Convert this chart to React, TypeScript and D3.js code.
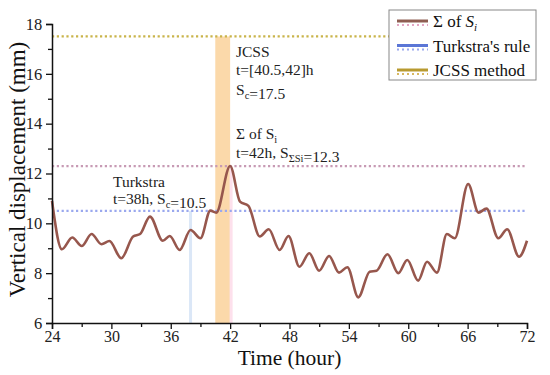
import React, { useRef, useEffect } from "react";
import * as d3 from "d3";

const times = [24, 25, 26.05, 27, 28, 29, 29.8, 31, 32.2, 32.9, 33.9, 35.2, 35.9, 36.9, 38, 39, 40, 40.6, 42, 43, 43.85, 45, 45.9, 47, 47.9, 49, 50, 51, 52, 53, 53.85, 54.95, 56.1, 56.8, 57.9, 59, 59.9, 61, 61.9, 62.9, 63.9, 64.7, 66.05, 67.1, 67.9, 69.1, 70, 71.2, 72];
const sumSi = [10.9, 8.96, 9.43, 9.09, 9.57, 9.16, 9.29, 8.6, 9.47, 9.57, 10.27, 9.3, 9.49, 8.93, 9.73, 9.4, 10.51, 10.43, 12.3, 10.87, 10.7, 9.47, 9.76, 8.93, 9.49, 8.26, 8.8, 8.1, 8.69, 8.02, 8.24, 7.03, 8.06, 8.1, 8.76, 8.0, 8.53, 7.7, 8.46, 8.02, 9.57, 9.4, 11.58, 10.43, 10.59, 9.4, 9.76, 8.66, 9.3];
const levels = { sum: 12.3, turkstra: 10.5, jcss: 17.5 };
const jcssWindow = [40.5, 42];
const turkstraTime = 38;
const peakTime = 42;
const xTicks = [24, 30, 36, 42, 48, 54, 60, 66, 72];
const yTicks = [6, 8, 10, 12, 14, 16, 18];

const font = "'Liberation Serif', 'Times New Roman', serif";

// inline font on a text or tspan
const serif = (sel, size, italic = false) =>
    sel.style("font-family", font)
        .style("font-size", size + "px")
        .style("font-style", italic ? "italic" : "normal");

const App = () => {
    const ref = useRef(null);

    useEffect(() => {
        const svg = d3.select(ref.current);
        svg.selectAll("*").remove();

        const x = d3.scaleLinear().domain([24, 72]).range([52, 527]);
        const y = d3.scaleLinear().domain([6, 18]).range([323, 24]);

        // JCSS window band
        svg.append("rect")
            .attr("x", x(jcssWindow[0]))
            .attr("width", x(jcssWindow[1]) - x(jcssWindow[0]))
            .attr("y", y(levels.jcss))
            .attr("height", y(6) - y(levels.jcss))
            .attr("fill", "#fbd9aa");

        // vertical markers
        svg.append("line")
            .attr("x1", x(turkstraTime)).attr("x2", x(turkstraTime))
            .attr("y1", y(6)).attr("y2", y(levels.turkstra))
            .attr("stroke", "#dbe7f7").attr("stroke-width", 3);
        svg.append("line")
            .attr("x1", x(peakTime) + 1).attr("x2", x(peakTime) + 1)
            .attr("y1", y(6)).attr("y2", y(levels.sum))
            .attr("stroke", "#fde0ec").attr("stroke-width", 3);

        // dotted reference levels
        const dotted = [
            [levels.jcss, "#c9b44a"],
            [levels.sum, "#c79ab4"],
            [levels.turkstra, "#9aa8ee"],
        ];
        dotted.forEach(([v, c]) => {
            svg.append("line")
                .attr("x1", x(24)).attr("x2", x(72))
                .attr("y1", y(v)).attr("y2", y(v))
                .attr("stroke", c).attr("stroke-width", 2.2)
                .attr("stroke-dasharray", "2.2,2.6");
        });

        // curve
        const line = d3.line()
            .x((d, i) => x(times[i]))
            .y((d) => y(d))
            .curve(d3.curveMonotoneX);
        svg.append("path")
            .attr("d", line(sumSi))
            .attr("fill", "none")
            .attr("stroke", "#97574d")
            .attr("stroke-width", 2.6);

        // axes
        const xAxis = svg.append("g").attr("transform", `translate(0,${y(6)})`)
            .call(d3.axisBottom(x).tickValues(xTicks).tickSize(6).tickFormat(d3.format("d")));
        svg.append("g").attr("transform", `translate(0,${y(6)})`)
            .call(d3.axisBottom(x).tickValues(d3.range(27, 72, 6)).tickSize(4).tickFormat(""))
            .select(".domain").remove();
        const yAxis = svg.append("g").attr("transform", `translate(${x(24)},0)`)
            .call(d3.axisLeft(y).tickValues(yTicks).tickSize(6).tickFormat(d3.format("d")));
        svg.append("g").attr("transform", `translate(${x(24)},0)`)
            .call(d3.axisLeft(y).tickValues(d3.range(7, 18, 2)).tickSize(4).tickFormat(""))
            .select(".domain").remove();

        svg.selectAll(".domain").attr("stroke", "#111").attr("stroke-width", 1.5);
        svg.selectAll(".tick line").attr("stroke", "#111").attr("stroke-width", 1.3);
        serif(xAxis.selectAll("text"), 16).attr("fill", "#222").attr("y", 6).attr("dy", "0.8em");
        serif(yAxis.selectAll("text"), 16.5).attr("fill", "#222").attr("dx", "-0.05em");

        serif(svg.append("text")
            .attr("x", (x(24) + x(72)) / 2).attr("y", 365)
            .attr("text-anchor", "middle").attr("fill", "#111")
            .text("Time (hour)"), 21.5);
        serif(svg.append("text")
            .attr("transform", `translate(25,${(y(6) + y(18)) / 2 - 4}) rotate(-90)`)
            .attr("text-anchor", "middle").attr("fill", "#111")
            .text("Vertical displacement (mm)"), 23);

        // annotations
        const note = (tx, ty, parts) => {
            const t = serif(svg.append("text").attr("x", tx).attr("y", ty).attr("fill", "#222"), 15.5);
            parts.forEach(([s, sub]) => {
                if (sub) {
                    serif(t.append("tspan").attr("dy", 3.5).text(s), 10.5);
                    serif(t.append("tspan").attr("dy", -3.5).text(""), 15.5);
                } else {
                    serif(t.append("tspan").text(s), 15.5);
                }
            });
        };
        note(236, 57, [["JCSS"]]);
        note(236, 75, [["t=[40.5,42]h"]]);
        note(236, 95, [["S"], ["c", true], ["=17.5"]]);
        note(236, 139, [["Σ of S"], ["i", true]]);
        note(236, 158, [["t=42h, S"], ["ΣSi", true], ["=12.3"]]);
        note(113, 187, [["Turkstra"]]);
        note(113, 204, [["t=38h, S"], ["c", true], ["=10.5"]]);

        // legend
        const lg = svg.append("g");
        lg.append("rect")
            .attr("x", 389).attr("y", 10).attr("width", 147).attr("height", 70)
            .attr("fill", "#fff").attr("stroke", "#888").attr("stroke-width", 1);
        const entries = [
            ["#8f5e52", "#e4a7c4", "Σ of ", "S", "i"],
            ["#5b76d6", "#9aa8ee", "Turkstra's rule"],
            ["#b89a30", "#d8b860", "JCSS method"],
        ];
        entries.forEach((e, i) => {
            const cy = 21 + i * 24.5;
            lg.append("line").attr("x1", 397).attr("x2", 428).attr("y1", cy).attr("y2", cy)
                .attr("stroke", e[0]).attr("stroke-width", 3);
            lg.append("line").attr("x1", 397).attr("x2", 428).attr("y1", cy + 4).attr("y2", cy + 4)
                .attr("stroke", e[1]).attr("stroke-width", 1.8).attr("stroke-dasharray", "2,3");
            const t = serif(lg.append("text").attr("x", 433).attr("y", cy + 6).attr("fill", "#111"), 17);
            serif(t.append("tspan").text(e[2]), 17);
            if (e[3]) {
                serif(t.append("tspan").text(e[3]), 17, true);
                serif(t.append("tspan").attr("dy", 4).text(e[4]), 11, true);
            }
        });
    });

    return (
        <svg ref={ref} width={550} height={375}
            style={{ position: "absolute", left: 0, top: 0, background: "#fff" }} />
    );
};

export default App;
